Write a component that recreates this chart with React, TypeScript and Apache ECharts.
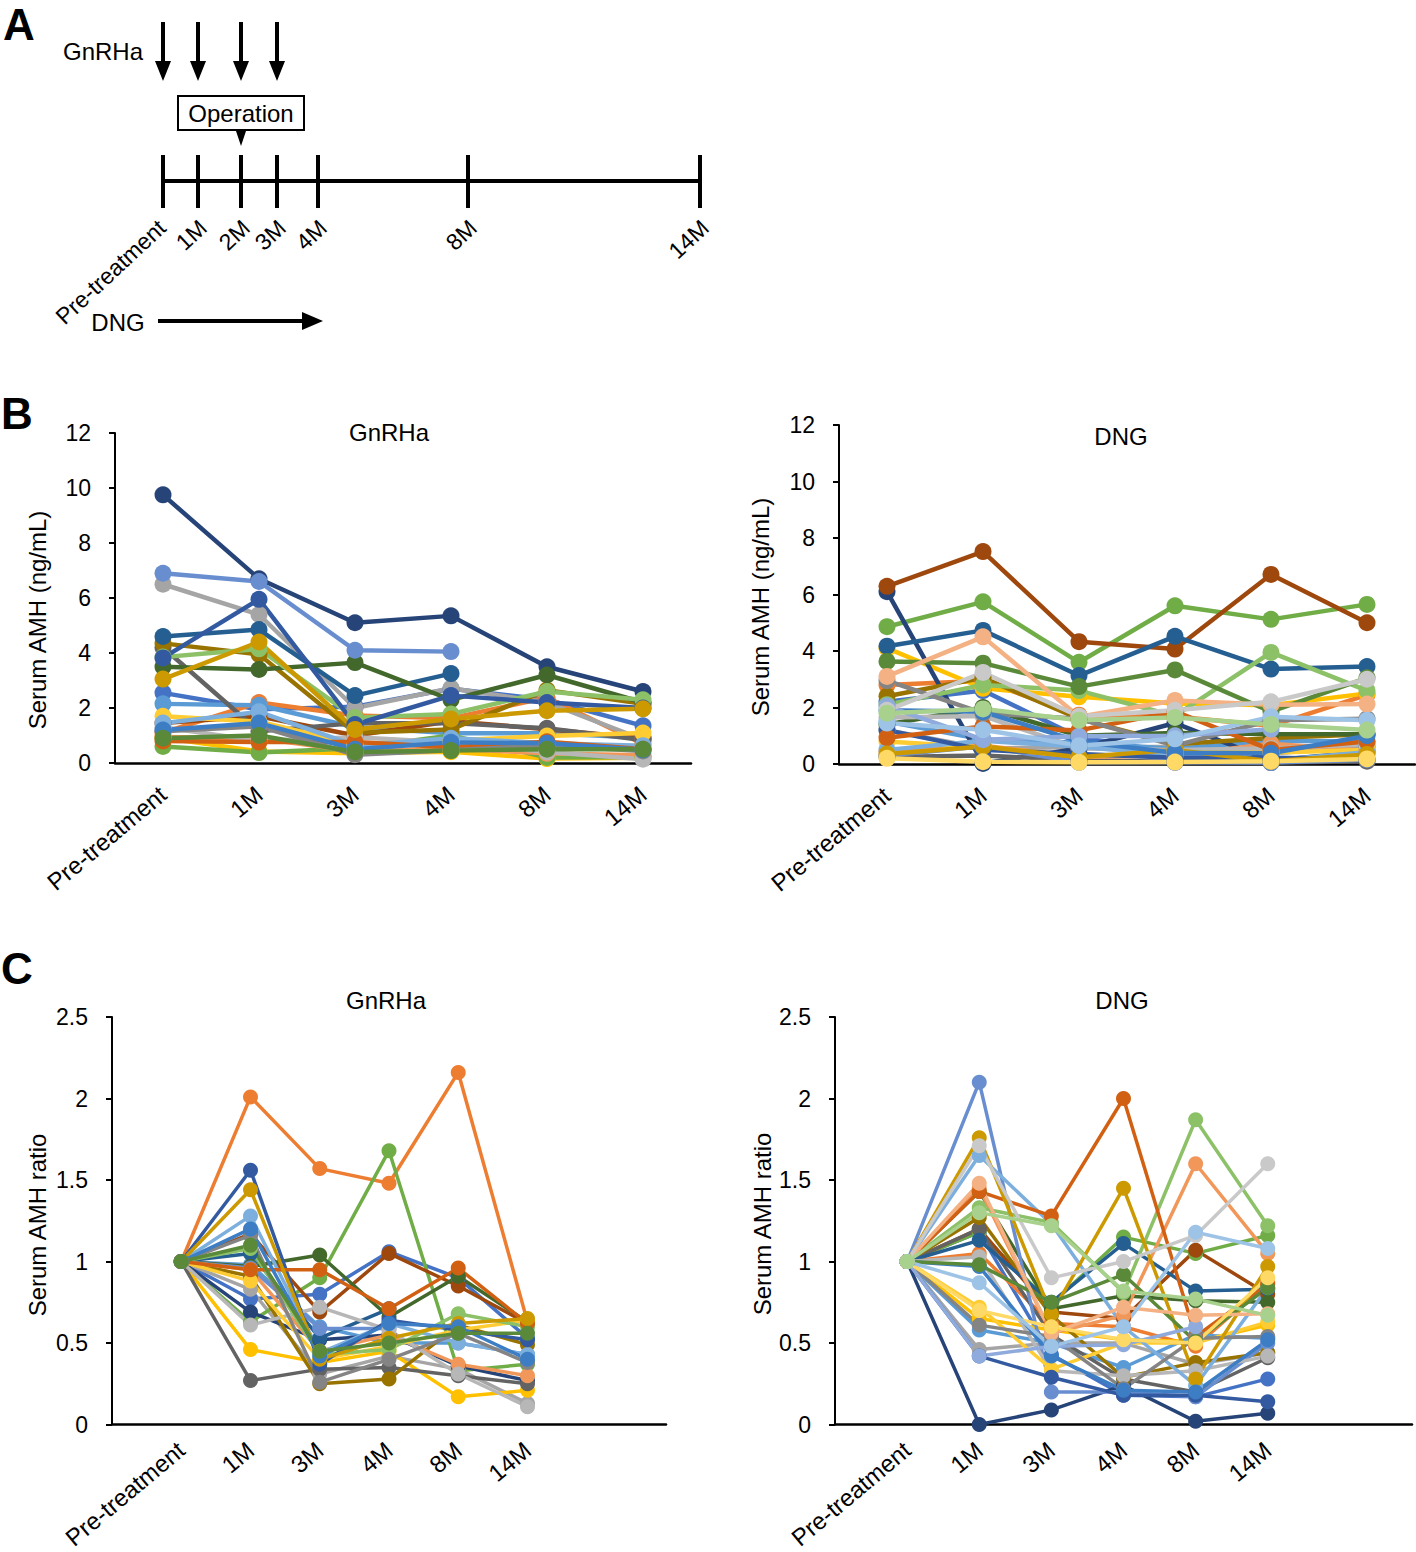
import React, { useEffect, useRef } from "react";
import * as echarts from "echarts";

const FONT = "'Liberation Sans', Arial, Helvetica, sans-serif";

// ---- categories / tick labels ----
const timepoints = ["Pre-treatment", "1M", "3M", "4M", "8M", "14M"];
const schemeLabels = ["Pre-treatment", "1M", "2M", "3M", "4M", "8M", "14M"];
const schemeMonths = [0, 1, 2, 3, 4, 8, 14];
const gnrhaInjectionMonths = [0, 1, 2, 3];

// ---- Excel default series colours ----
const excelPalette = [
  "#4472C4", "#ED7D31", "#A5A5A5", "#FFC000", "#5B9BD5", "#70AD47",
  "#264478", "#9E480E", "#636363", "#997300", "#255E91", "#43682B",
  "#698ED0", "#F1975A", "#B7B7B7", "#FFCD33", "#7CAFDD", "#8CC168",
  "#335AA1", "#D26012", "#848484", "#CC9A00", "#3C7DC4", "#5A8A39",
  "#8FAADC", "#F4B183", "#C9C9C9", "#FFD966", "#9DC3E6", "#A9D18E",
];

// ---- B: serum AMH (ng/mL), GnRHa group (Pre, 1M, 3M, 4M, 8M, 14M) ----
const gnrhaAmh: (number | null)[][] = [
  [2.55, 1.95, 2.05, 2.7, 2.3, 1.35],
  [1.1, 2.2, 1.73, 1.63, 2.38, 0.69],
  [6.5, 5.4, 2.0, 2.72, 2.2, 0.85],
  [0.92, 0.42, 0.35, 0.41, 0.16, 0.19],
  [2.15, 2.1, 1.3, 1.08, 1.08, 0.92],
  [0.6, 0.38, 0.54, 1.0, 0.2, 0.22],
  [9.75, 6.7, 5.1, 5.35, 3.5, 2.6],
  [1.45, 1.7, 1.0, 1.52, 1.23, 0.9],
  [4.2, 1.15, 1.45, 1.45, 1.26, 0.84],
  [4.35, 3.95, 1.1, 1.22, 2.65, 2.15],
  [4.6, 4.85, 2.45, 3.25, null, null],
  [3.5, 3.4, 3.65, 2.3, 3.2, 2.2],
  [6.9, 6.6, 4.1, 4.05, null, null],
  [0.95, 0.9, 0.43, 0.52, 0.35, 0.28],
  [1.3, 0.8, 0.94, 0.75, 0.4, 0.14],
  [1.7, 1.5, 0.68, 0.82, 0.98, 1.09],
  [1.45, 1.86, 0.64, 0.9, 0.72, 0.63],
  [3.85, 4.15, 1.65, 1.78, 2.6, 2.3],
  [3.82, 5.95, 1.4, 2.45, 2.2, 2.0],
  [0.8, 0.76, 0.76, 0.57, 0.77, 0.5],
  [1.15, 1.33, 0.3, 0.46, 0.64, 0.44],
  [3.05, 4.4, 1.22, 1.6, 1.9, 1.97],
  [1.2, 1.45, 0.5, 0.75, 0.72, 0.48],
  [0.9, 1.0, 0.4, 0.45, 0.5, 0.5],
];

// ---- B: serum AMH (ng/mL), DNG group ----
const dngAmh: (number | null)[][] = [
  [2.2, 2.6, 0.95, 0.4, 0.38, 0.62],
  [2.8, 2.95, 1.73, 1.68, 1.35, 2.45],
  [1.2, 0.55, 0.6, 0.6, 0.44, 0.53],
  [4.1, 2.68, 2.38, 2.14, 2.08, 2.5],
  [1.5, 0.87, 0.75, 0.53, 0.82, 0.8],
  [4.86, 5.74, 3.6, 5.6, 5.12, 5.65],
  [6.1, 0.02, 0.55, 1.45, 0.12, 0.43],
  [6.29, 7.52, 4.33, 4.07, 6.71, 5.0],
  [0.25, 0.3, 0.14, 0.07, 0.05, 0.1],
  [2.4, 3.05, 1.6, 0.7, 0.92, 1.05],
  [4.17, 4.73, 3.13, 4.52, 3.36, 3.45],
  [1.4, 2.0, 1.0, 1.1, 1.06, 1.05],
  [0.3, 0.63, 0.06, 0.06, 0.05, 0.15],
  [0.45, 0.65, 0.25, 0.3, 0.72, 0.47],
  [1.65, 1.7, 0.55, 0.5, 0.55, 0.7],
  [0.8, 0.58, 0.27, 0.4, 0.4, 0.5],
  [0.5, 0.82, 0.62, 0.3, 0.12, 0.42],
  [2.1, 2.8, 2.6, 1.7, 3.95, 2.6],
  [1.2, 0.5, 0.35, 0.22, 0.22, 0.17],
  [0.93, 1.33, 1.19, 1.86, 0.5, 0.8],
  [2.95, 1.8, 1.6, 0.65, 1.55, 1.6],
  [0.35, 0.62, 0.24, 0.5, 0.1, 0.34],
  [1.9, 1.85, 0.8, 0.4, 0.38, 1.0],
  [3.63, 3.57, 2.74, 3.33, 1.85, 3.05],
  [2.05, 0.86, 0.98, 1.0, 1.23, null],
  [3.1, 4.5, 1.67, 2.25, 2.1, 2.12],
  [1.9, 3.24, 1.69, 1.9, 2.2, 3.0],
  [0.2, 0.08, 0.06, 0.07, 0.1, 0.18],
  [1.45, 1.21, 0.65, 0.89, 1.67, 1.55],
  [1.8, 1.95, 1.55, 1.65, 1.4, 1.2],
];

// ---- C: serum AMH ratio, GnRHa group ----
const gnrhaRatio: (number | null)[][] = [
  [1, 0.77, 0.8, 1.06, 0.9, 0.53],
  [1, 2.01, 1.57, 1.48, 2.16, 0.63],
  [1, 0.83, 0.31, 0.42, 0.34, 0.13],
  [1, 0.46, 0.38, 0.45, 0.17, 0.21],
  [1, 0.98, 0.6, 0.5, 0.5, 0.43],
  [1, 0.63, 0.9, 1.68, 0.33, 0.37],
  [1, 0.69, 0.52, 0.55, 0.36, 0.27],
  [1, 1.17, 0.69, 1.05, 0.85, 0.62],
  [1, 0.27, 0.34, 0.35, 0.3, 0.25],
  [1, 0.91, 0.25, 0.28, 0.61, 0.49],
  [1, 1.05, 0.53, 0.71, null, null],
  [1, 0.97, 1.04, 0.66, 0.91, 0.63],
  [1, 0.96, 0.59, 0.59, null, null],
  [1, 0.95, 0.45, 0.55, 0.37, 0.3],
  [1, 0.61, 0.72, 0.58, 0.31, 0.11],
  [1, 0.88, 0.4, 0.48, 0.58, 0.64],
  [1, 1.28, 0.44, 0.62, 0.5, 0.43],
  [1, 1.08, 0.43, 0.46, 0.68, 0.6],
  [1, 1.56, 0.37, 0.64, 0.58, 0.52],
  [1, 0.95, 0.95, 0.71, 0.96, 0.62],
  [1, 1.16, 0.26, 0.4, 0.56, 0.38],
  [1, 1.44, 0.4, 0.53, 0.62, 0.65],
  [1, 1.2, 0.42, 0.62, 0.6, 0.4],
  [1, 1.1, 0.45, 0.5, 0.56, 0.56],
];

// ---- C: serum AMH ratio, DNG group ----
const dngRatio: (number | null)[][] = [
  [1, 1.18, 0.43, 0.18, 0.17, 0.28],
  [1, 1.05, 0.62, 0.6, 0.48, 0.87],
  [1, 0.46, 0.5, 0.5, 0.37, 0.44],
  [1, 0.65, 0.58, 0.52, 0.51, 0.61],
  [1, 0.58, 0.5, 0.35, 0.55, 0.53],
  [1, 1.18, 0.74, 1.15, 1.05, 1.16],
  [1, 0, 0.09, 0.24, 0.02, 0.07],
  [1, 1.2, 0.69, 0.65, 1.07, 0.8],
  [1, 1.2, 0.55, 0.28, 0.2, 0.41],
  [1, 1.27, 0.67, 0.29, 0.38, 0.44],
  [1, 1.13, 0.75, 1.11, 0.82, 0.83],
  [1, 1.43, 0.71, 0.79, 0.76, 0.75],
  [1, 2.1, 0.2, 0.2, 0.17, 0.5],
  [1, 1.45, 0.56, 0.67, 1.6, 1.05],
  [1, 1.03, 0.33, 0.3, 0.33, 0.42],
  [1, 0.72, 0.34, 0.5, 0.5, 0.63],
  [1, 1.65, 1.23, 0.6, 0.24, 0.84],
  [1, 1.33, 1.24, 0.81, 1.87, 1.22],
  [1, 0.42, 0.29, 0.18, 0.18, 0.14],
  [1, 1.43, 1.28, 2.0, 0.54, 0.86],
  [1, 0.61, 0.54, 0.22, 0.53, 0.54],
  [1, 1.76, 0.68, 1.45, 0.28, 0.97],
  [1, 0.97, 0.42, 0.21, 0.2, 0.52],
  [1, 0.98, 0.75, 0.92, 0.51, 0.84],
  [1, 0.42, 0.48, 0.49, 0.6, null],
  [1, 1.48, 0.56, 0.72, 0.67, 0.68],
  [1, 1.71, 0.9, 1.0, 1.16, 1.6],
  [1, 0.7, 0.6, 0.52, 0.5, 0.9],
  [1, 0.87, 0.48, 0.6, 1.18, 1.08],
  [1, 1.3, 1.22, 0.82, 0.77, 0.67],
];

// ---------------------------------------------------------------------------

function txt(
  text: string,
  x: number,
  y: number,
  opts: { size?: number; weight?: string; rotation?: number; align?: string; valign?: string } = {}
) {
  const align = opts.align || "center";
  const valign = opts.valign || "middle";
  return {
    type: "text",
    x,
    y,
    rotation: opts.rotation || 0,
    silent: true,
    style: {
      text,
      fill: "#000",
      fontSize: opts.size || 24,
      fontFamily: FONT,
      fontWeight: opts.weight || "normal",
      align,
      verticalAlign: valign,
      textAlign: align,
      textVerticalAlign: valign,
    },
  };
}

function line(x1: number, y1: number, x2: number, y2: number, w = 4) {
  return {
    type: "line",
    silent: true,
    shape: { x1, y1, x2, y2 },
    style: { stroke: "#000", lineWidth: w },
  };
}

function poly(points: number[][]) {
  return { type: "polygon", silent: true, shape: { points }, style: { fill: "#000" } };
}

function buildSchemeGraphics() {
  const els: any[] = [];
  const monthX: Record<number, number> = { 0: 163, 1: 198, 2: 241, 3: 277, 4: 318, 8: 468, 14: 700 };
  const axisY = 181;
  els.push(line(monthX[0], axisY, monthX[14], axisY, 4));
  schemeMonths.forEach((m, i) => {
    els.push(line(monthX[m], 155, monthX[m], 208, 4));
    const dx = m === 0 ? -1 : 5;
    els.push(
      txt(schemeLabels[i], monthX[m] + dx, 224, { size: 23, rotation: (43 * Math.PI) / 180, align: "right" })
    );
  });
  gnrhaInjectionMonths.forEach((m) => {
    const x = monthX[m];
    els.push(line(x, 22, x, 64, 4));
    els.push(poly([[x - 8, 61], [x + 8, 61], [x, 81]]));
  });
  els.push(txt("GnRHa", 103, 51, { size: 24 }));
  els.push({
    type: "rect",
    silent: true,
    shape: { x: 178, y: 96, width: 126, height: 34 },
    style: { fill: "#fff", stroke: "#000", lineWidth: 2 },
  });
  els.push(txt("Operation", 241, 113, { size: 24 }));
  els.push(poly([[236, 131], [246, 131], [241, 146]]));
  els.push(txt("DNG", 118, 322, { size: 24 }));
  els.push(line(158, 321, 304, 321, 4));
  els.push(poly([[302, 312], [302, 330], [323, 321]]));
  els.push(txt("A", 19, 24, { size: 44, weight: "bold" }));
  els.push(txt("B", 17, 413, { size: 44, weight: "bold" }));
  els.push(txt("C", 17, 968, { size: 44, weight: "bold" }));
  els.push(txt("GnRHa", 389, 432, { size: 24 }));
  els.push(txt("DNG", 1121, 436, { size: 24 }));
  els.push(txt("GnRHa", 386, 1000, { size: 24 }));
  els.push(txt("DNG", 1122, 1000, { size: 24 }));
  els.push(txt("Serum AMH (ng/mL)", 37, 620, { size: 24, rotation: Math.PI / 2 }));
  els.push(txt("Serum AMH (ng/mL)", 760, 607, { size: 24, rotation: Math.PI / 2 }));
  els.push(txt("Serum AMH ratio", 37, 1225, { size: 24, rotation: Math.PI / 2 }));
  els.push(txt("Serum AMH ratio", 762, 1224, { size: 24, rotation: Math.PI / 2 }));
  return els;
}

function xAxisFor(gridIndex: number, min: number, max: number, margin: number) {
  return {
    type: "value",
    gridIndex,
    min,
    max,
    axisLine: { show: true, onZero: false, lineStyle: { color: "#000", width: 2.5 } },
    axisTick: { show: false },
    splitLine: { show: false },
    axisLabel: {
      customValues: [0, 1, 2, 3, 4, 5],
      formatter: (v: number) => timepoints[Math.round(v)] ?? "",
      rotate: 40,
      fontSize: 24,
      fontFamily: FONT,
      color: "#000",
      margin,
    },
  };
}

function yAxisFor(gridIndex: number, max: number, interval: number) {
  return {
    type: "value",
    gridIndex,
    min: 0,
    max,
    interval,
    axisLine: { show: true, onZero: false, lineStyle: { color: "#000", width: 2 } },
    axisTick: { show: true, length: 6, lineStyle: { color: "#000", width: 2 } },
    splitLine: { show: false },
    axisLabel: { fontSize: 23, fontFamily: FONT, color: "#000", margin: 24 },
  };
}

function seriesFor(rows: (number | null)[][], axisIndex: number, symbolSize: number, width: number) {
  return rows.map((row, i) => ({
    type: "line",
    xAxisIndex: axisIndex,
    yAxisIndex: axisIndex,
    data: row.map((v, j) => [j, v]).filter((p) => p[1] !== null),
    symbol: "circle",
    symbolSize,
    showSymbol: true,
    lineStyle: { color: excelPalette[i % excelPalette.length], width },
    itemStyle: { color: excelPalette[i % excelPalette.length] },
    silent: true,
    z: 2,
  }));
}

export default function App() {
  const ref = useRef<HTMLDivElement>(null);
  useEffect(() => {
    if (!ref.current) return;
    const chart = echarts.init(ref.current, undefined, { renderer: "svg" });
    chart.setOption({
      animation: false,
      backgroundColor: "#fff",
      textStyle: { fontFamily: FONT },
      grid: [
        { left: 115, top: 433, width: 576, height: 330 },
        { left: 839, top: 425, width: 576, height: 339 },
        { left: 112, top: 1017, width: 554, height: 413 },
        { left: 835, top: 1017, width: 577, height: 413 },
      ],
      xAxis: [
        xAxisFor(0, -0.5, 5.5, 28),
        xAxisFor(1, -0.5, 5.5, 28),
        xAxisFor(2, -1, 7, 22),
        xAxisFor(3, -1, 7, 22),
      ],
      yAxis: [yAxisFor(0, 12, 2), yAxisFor(1, 12, 2), yAxisFor(2, 2.5, 0.5), yAxisFor(3, 2.5, 0.5)],
      series: [
        ...seriesFor(gnrhaAmh, 0, 17, 4.5),
        ...seriesFor(dngAmh, 1, 17, 4.5),
        ...seriesFor(gnrhaRatio, 2, 15, 3.5),
        ...seriesFor(dngRatio, 3, 15, 3.5),
      ],
      graphic: { elements: buildSchemeGraphics() },
    });
    return () => chart.dispose();
  }, []);
  return (
    <div
      ref={ref}
      style={{ position: "absolute", left: 0, top: 0, width: 1416, height: 1552, background: "#fff" }}
    />
  );
}
